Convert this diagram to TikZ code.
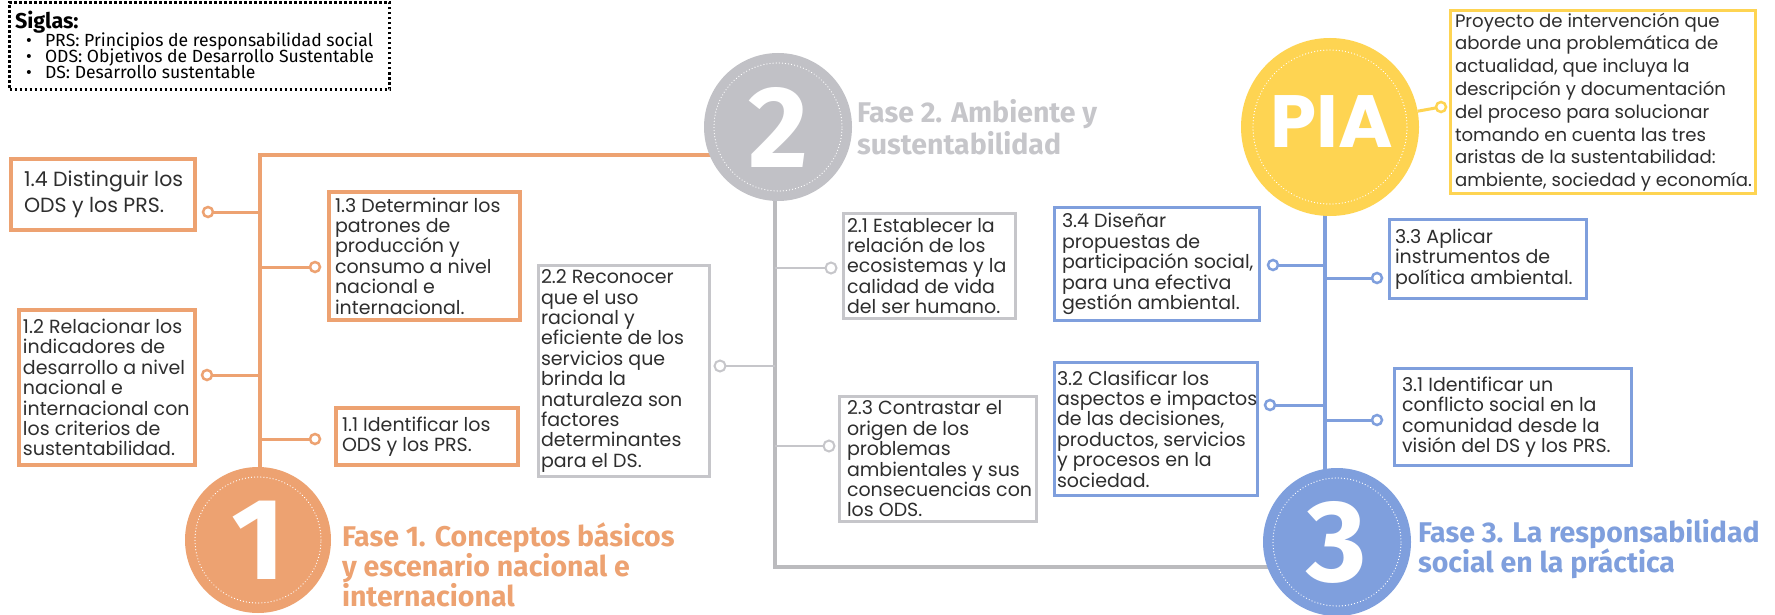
\documentclass[tikz,border=0pt]{standalone}
\usepackage{fontspec}
\setmainfont{Poppins}
\newfontfamily\firasans{Fira Sans}
\usetikzlibrary{backgrounds}
\definecolor{orng}{HTML}{EDA271}
\definecolor{gcirc}{HTML}{C1C1C6}
\definecolor{gline}{HTML}{BBBBBE}
\definecolor{gbord}{HTML}{C6C6CA}
\definecolor{ghead}{HTML}{C6C6CA}
\definecolor{blu}{HTML}{7F9FDD}
\definecolor{ylw}{HTML}{FED452}
\definecolor{txtc}{HTML}{2E2E2E}
\begin{document}
\begin{tikzpicture}[x=1pt,y=-1pt,
  every node/.style={inner sep=0pt, outer sep=0pt},
  txt/.style={text=txtc, font=\fontsize{19}{20.4}\selectfont, align=left, anchor=west},
  bx/.style={draw=#1, rectangle, fill=white},
  obox/.style={bx=orng, line width=4pt},
  gbox/.style={bx=gbord, line width=3pt},
  bbox/.style={bx=blu, line width=3pt},
  ybox/.style={bx=ylw, line width=3pt},
  con/.style={circle, draw=#1, fill=white, line width=2.5pt, minimum size=10pt},
  gcon/.style={circle, draw=gbord, fill=white, line width=2pt, minimum size=11pt},
  big/.style={circle, fill=#1, text=white, font=\firasans\bfseries\fontsize{116}{116}\selectfont},
  dotring/.style={white, line width=1.2pt, dash pattern=on 0.1pt off 3pt, line cap=round},
  head/.style={anchor=base west, font=\firasans\bfseries\fontsize{28.5}{30}\selectfont, text=#1},
  legtxt/.style={anchor=base west, font=\firasans\fontsize{17.6}{16}\selectfont, text=black},
]
\useasboundingbox (0,0) rectangle (1775,615);
\begin{scope}[on background layer]
\fill[white] (0,0) rectangle (1775,615);
\end{scope}

% legend
\node[draw=black, line width=3pt, dash pattern=on 2.6pt off 2.4pt, minimum width=380pt, minimum height=87pt] (leg) at (199.5,46) {};
\node[anchor=base west, font=\firasans\bfseries\fontsize{21.5}{21.5}\selectfont] (legt) at (15,29) {Siglas:};
\node[legtxt] (l1b) at (26,46.5) {•};
\node[legtxt] (l1) at (45,46.5) {PRS: Principios de responsabilidad social};
\node[legtxt] (l2b) at (26,62.5) {•};
\node[legtxt] (l2) at (45,62.5) {ODS: Objetivos de Desarrollo Sustentable};
\node[legtxt] (l3b) at (26,78.5) {•};
\node[legtxt] (l3) at (45,78.5) {DS: Desarrollo sustentable};

% big circles
\node[big=orng, minimum size=146pt] (ph1) at (258,540) {1};
\draw[dotring] (ph1.center) circle (63pt);
\node[big=gcirc, minimum size=148pt] (ph2) at (778,127) {2};
\draw[dotring] (ph2.center) circle (64pt);
\node[big=blu, minimum size=148pt] (ph3) at (1337,542) {3};
\draw[dotring] (ph3.center) circle (64pt);
\node[circle, fill=ylw, minimum size=178pt] (pia) at (1330,127) {};
\draw[dotring] (pia.center) circle (77pt);
\node[anchor=base, text=white, font=\bfseries\fontsize{74}{74}\selectfont] (piat) at (1332,148) {PIA};

% trunk coordinates
\coordinate (otop) at (260,155);
\coordinate (gbot) at (775,567);
\coordinate (btr) at (1325,300);

\begin{scope}[on background layer]
\draw[orng, line width=4pt] (ph2.center |- otop) -- (otop) -- (otop |- ph1.center);
\draw[gline, line width=4.5pt] (gbot |- ph2.center) -- (gbot) -- (gbot -| ph3.center);
\draw[blu, line width=4pt] (btr |- pia.center) -- (btr |- ph3.center);
\end{scope}

% headings
\node[head=orng] (f1a) at (342,546) {Fase 1. Conceptos básicos};
\node[head=orng] (f1b) at (342,576) {y escenario nacional e};
\node[head=orng] (f1c) at (342,606) {internacional};
\node[head=ghead] (f2a) at (857,123) {Fase 2. Ambiente y};
\node[head=ghead] (f2b) at (857,154) {sustentabilidad};
\node[head=blu] (f3a) at (1418,542) {Fase 3. La responsabilidad};
\node[head=blu] (f3b) at (1418,572) {social en la práctica};

% orange boxes
\node[obox, minimum width=184pt, minimum height=71pt] (b14) at (103,194.5) {};
\node[txt, font=\fontsize{20.5}{25.7}\selectfont] (t14) at (24,194.5) {1.4 Distinguir los\\ODS y los PRS.};
\node[obox, minimum width=191pt, minimum height=128pt] (b13) at (424.5,256) {};
\node[txt] (t13) at (335,256) {1.3 Determinar los\\patrones de\\producción y\\consumo a nivel\\nacional e\\internacional.};
\node[obox, minimum width=176pt, minimum height=155pt] (b12) at (107,387.5) {};
\node[txt] (t12) at (23,387.5) {1.2 Relacionar los\\indicadores de\\desarrollo a nivel\\nacional e\\internacional con\\los criterios de\\sustentabilidad.};
\node[obox, minimum width=182pt, minimum height=57pt] (b11) at (427,436.5) {};
\node[txt] (t11) at (342,436.5) {1.1 Identificar los\\ODS y los PRS.};

% grey boxes
\node[gbox, minimum width=171pt, minimum height=211pt] (b22) at (624,371) {};
\node[txt] (t22) at (541,371) {2.2 Reconocer\\que el uso\\racional y\\eficiente de los\\servicios que\\brinda la\\naturaleza son\\factores\\determinantes\\para el DS.};
\node[gbox, minimum width=172pt, minimum height=105pt] (b21) at (929.5,266) {};
\node[txt] (t21) at (847,266) {2.1 Establecer la\\relación de los\\ecosistemas y la\\calidad de vida\\del ser humano.};
\node[gbox, minimum width=197pt, minimum height=125pt] (b23) at (938,459) {};
\node[txt] (t23) at (847,459) {2.3 Contrastar el\\origen de los\\problemas\\ambientales y sus\\consecuencias con\\los ODS.};

% blue boxes
\node[bbox, minimum width=205pt, minimum height=113pt] (b34) at (1157,264) {};
\node[txt] (t34) at (1062,264) {3.4 Diseñar\\propuestas de\\participación social,\\para una efectiva\\gestión ambiental.};
\node[bbox, minimum width=197pt, minimum height=79pt] (b33) at (1488,259) {};
\node[txt] (t33) at (1395,259) {3.3 Aplicar\\instrumentos de\\política ambiental.};
\node[bbox, minimum width=203pt, minimum height=133pt] (b32) at (1156,429) {};
\node[txt] (t32) at (1057,429) {3.2 Clasificar los\\aspectos e impactos\\de las decisiones,\\productos, servicios\\y procesos en la\\sociedad.};
\node[bbox, minimum width=237pt, minimum height=97pt] (b31) at (1513,417) {};
\node[txt] (t31) at (1402,417) {3.1 Identificar un\\conflicto social en la\\comunidad desde la\\visión del DS y los PRS.};

% PIA box
\node[ybox, minimum width=305pt, minimum height=183pt] (bpia) at (1603,102) {};
\node[txt, font=\fontsize{18.1}{22.8}\selectfont] (tpia) at (1455,102) {Proyecto de intervención que\\aborde una problemática de\\actualidad, que incluya la\\descripción y documentación\\del proceso para solucionar\\tomando en cuenta las tres\\aristas de la sustentabilidad:\\ambiente, sociedad y economía.};

% connector circles
\node[con=orng] (c14) at (208,212) {};
\node[con=orng] (c13) at (315,267) {};
\node[con=orng] (c12) at (207,375) {};
\node[con=orng] (c11) at (315,439) {};
\node[gcon] (c21) at (831,268) {};
\node[gcon] (c22) at (720,366) {};
\node[gcon] (c23) at (829,446) {};
\node[con=blu] (c34) at (1273,265) {};
\node[con=blu] (c33) at (1377,278) {};
\node[con=blu] (c32) at (1270,405) {};
\node[con=blu] (c31) at (1377,420) {};
\node[con=ylw] (cpia) at (1441,107) {};

% branches
\draw[orng, line width=3pt] (c14) -- (c14 -| otop);
\draw[orng, line width=3pt] (c13) -- (c13 -| otop);
\draw[orng, line width=3pt] (c12) -- (c12 -| otop);
\draw[orng, line width=3pt] (c11) -- (c11 -| otop);
\draw[gbord, line width=2pt] (c21) -- (c21 -| gbot);
\draw[gbord, line width=2pt] (c22) -- (c22 -| gbot);
\draw[gbord, line width=2pt] (c23) -- (c23 -| gbot);
\draw[blu, line width=3pt] (c34) -- (c34 -| btr);
\draw[blu, line width=3pt] (c33) -- (c33 -| btr);
\draw[blu, line width=3pt] (c32) -- (c32 -| btr);
\draw[blu, line width=3pt] (c31) -- (c31 -| btr);
\draw[ylw, line width=3pt] (cpia) -- (pia);
\end{tikzpicture}
\end{document}
